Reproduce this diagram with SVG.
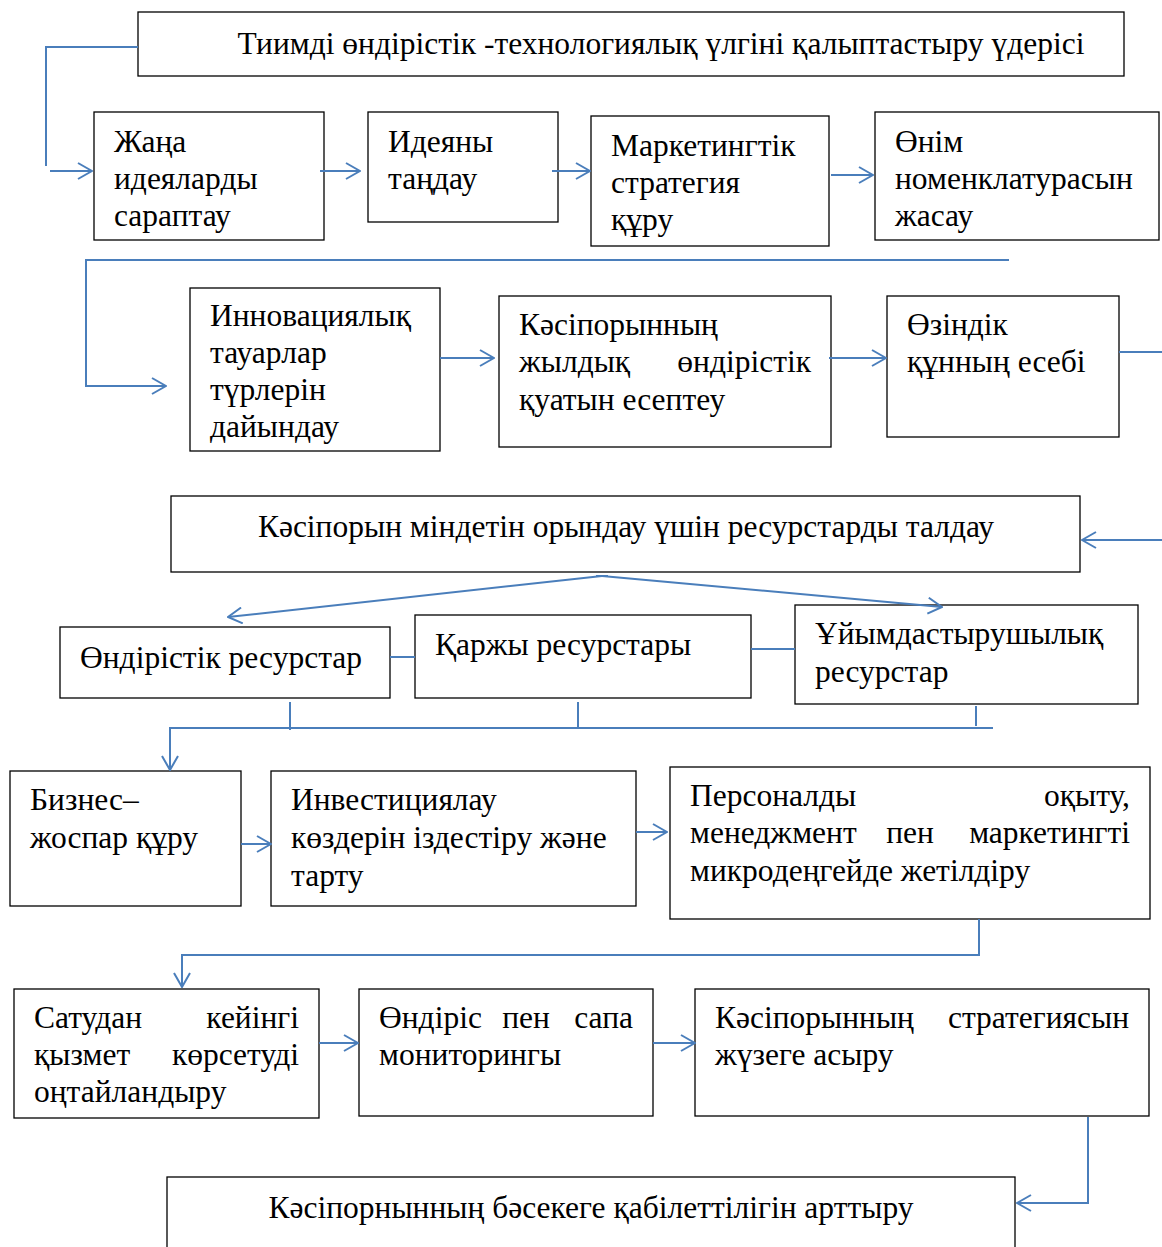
<svg xmlns="http://www.w3.org/2000/svg" width="1162" height="1247" viewBox="0 0 1162 1247">
<defs>
<style>
.box{fill:#fff;stroke:#000;stroke-width:1.3}
.t{font-family:"Liberation Serif","Times New Roman",serif;font-size:31.5px;fill:#000}
.c{fill:none;stroke:#4a7ebb;stroke-width:2}
</style>
<marker id="ah" viewBox="0 0 16 18" refX="15" refY="9" markerWidth="16" markerHeight="18" markerUnits="userSpaceOnUse" orient="auto">
<path d="M1,1 L15,9 L1,17" fill="none" stroke="#4a7ebb" stroke-width="2"/>
</marker>
</defs>
<rect width="1162" height="1247" fill="#fff"/>
<g id="n1"><rect class="box" x="138" y="12" width="986" height="64"/><text class="t" x="661" y="54" text-anchor="middle">Тиимді өндірістік -технологиялық үлгіні қалыптастыру үдерісі</text></g>
<g id="n2"><rect class="box" x="94" y="112" width="230" height="128"/><text class="t"><tspan x="114" y="152">Жаңа</tspan><tspan x="114" y="189">идеяларды</tspan><tspan x="114" y="226">сараптау</tspan></text></g>
<g id="n3"><rect class="box" x="368" y="112" width="190" height="110"/><text class="t"><tspan x="388" y="152">Идеяны</tspan><tspan x="388" y="189">таңдау</tspan></text></g>
<g id="n4"><rect class="box" x="591" y="116" width="238" height="130"/><text class="t"><tspan x="611" y="156">Маркетингтік</tspan><tspan x="611" y="193">стратегия</tspan><tspan x="611" y="230">құру</tspan></text></g>
<g id="n5"><rect class="box" x="875" y="112" width="284" height="128"/><text class="t"><tspan x="895" y="152">Өнім</tspan><tspan x="895" y="189">номенклатурасын</tspan><tspan x="895" y="226">жасау</tspan></text></g>
<g id="n6"><rect class="box" x="190" y="288" width="250" height="163"/><text class="t"><tspan x="210" y="326">Инновациялық</tspan><tspan x="210" y="363">тауарлар</tspan><tspan x="210" y="400">түрлерін</tspan><tspan x="210" y="437">дайындау</tspan></text></g>
<g id="n7"><rect class="box" x="499" y="296" width="332" height="151"/><text class="t"><tspan x="519" y="335">Кәсіпорынның</tspan><tspan x="519" y="372">жылдық</tspan><tspan x="811" y="372" text-anchor="end">өндірістік</tspan><tspan x="519" y="410">қуатын есептеу</tspan></text></g>
<g id="n8"><rect class="box" x="887" y="296" width="232" height="141"/><text class="t"><tspan x="907" y="335">Өзіндік</tspan><tspan x="907" y="372">құнның есебі</tspan></text></g>
<g id="n9"><rect class="box" x="171" y="496" width="909" height="76"/><text class="t" x="626" y="537" text-anchor="middle">Кәсіпорын міндетін орындау үшін ресурстарды талдау</text></g>
<g id="n10"><rect class="box" x="60" y="627" width="330" height="71"/><text class="t" x="80" y="668">Өндірістік ресурстар</text></g>
<g id="n11"><rect class="box" x="415" y="615" width="336" height="83"/><text class="t" x="435" y="655">Қаржы ресурстары</text></g>
<g id="n12"><rect class="box" x="795" y="605" width="343" height="99"/><text class="t"><tspan x="815" y="644">Ұйымдастырушылық</tspan><tspan x="815" y="682">ресурстар</tspan></text></g>
<g id="n13"><rect class="box" x="10" y="771" width="231" height="135"/><text class="t"><tspan x="30" y="810">Бизнес–</tspan><tspan x="30" y="848">жоспар құру</tspan></text></g>
<g id="n14"><rect class="box" x="271" y="771" width="365" height="135"/><text class="t"><tspan x="291" y="810">Инвестициялау</tspan><tspan x="291" y="848">көздерін іздестіру және</tspan><tspan x="291" y="886">тарту</tspan></text></g>
<g id="n15"><rect class="box" x="670" y="767" width="480" height="152"/><text class="t"><tspan x="690" y="806">Персоналды</tspan><tspan x="1130" y="806" text-anchor="end">оқыту,</tspan><tspan x="690" y="843">менеджмент</tspan><tspan x="910" y="843" text-anchor="middle">пен</tspan><tspan x="1130" y="843" text-anchor="end">маркетингті</tspan><tspan x="690" y="881">микродеңгейде жетілдіру</tspan></text></g>
<g id="n16"><rect class="box" x="14" y="989" width="305" height="129"/><text class="t"><tspan x="34" y="1028">Сатудан</tspan><tspan x="299" y="1028" text-anchor="end">кейінгі</tspan><tspan x="34" y="1065">қызмет</tspan><tspan x="299" y="1065" text-anchor="end">көрсетуді</tspan><tspan x="34" y="1102">оңтайландыру</tspan></text></g>
<g id="n17"><rect class="box" x="359" y="989" width="294" height="127"/><text class="t"><tspan x="379" y="1028">Өндіріс</tspan><tspan x="526" y="1028" text-anchor="middle">пен</tspan><tspan x="633" y="1028" text-anchor="end">сапа</tspan><tspan x="379" y="1065">мониторингы</tspan></text></g>
<g id="n18"><rect class="box" x="695" y="989" width="454" height="127"/><text class="t"><tspan x="715" y="1028">Кәсіпорынның</tspan><tspan x="1129" y="1028" text-anchor="end">стратегиясын</tspan><tspan x="715" y="1065">жүзеге асыру</tspan></text></g>
<g id="n19"><rect class="box" x="167" y="1177" width="848" height="80"/><text class="t" x="591" y="1218" text-anchor="middle">Кәсіпорнынның бәсекеге қабілеттілігін арттыру</text></g>
<g id="connectors">
<path class="c" d="M138,47 H46 V166"/>
<path class="c" d="M50,171 H92" marker-end="url(#ah)"/>
<path class="c" d="M320,171 H360" marker-end="url(#ah)"/>
<path class="c" d="M552,171 H590" marker-end="url(#ah)"/>
<path class="c" d="M831,175 H873" marker-end="url(#ah)"/>
<path class="c" d="M1009,260 H86 V386 H166" marker-end="url(#ah)"/>
<path class="c" d="M440,358 H494" marker-end="url(#ah)"/>
<path class="c" d="M829,358 H886" marker-end="url(#ah)"/>
<path class="c" d="M1119,352 H1162"/>
<path class="c" d="M1162,540 H1082" marker-end="url(#ah)"/>
<path class="c" d="M596,576 H608"/>
<path class="c" d="M602,576 L228,617" marker-end="url(#ah)"/>
<path class="c" d="M602,576 L942,607" marker-end="url(#ah)"/>
<path class="c" d="M390,657 H415"/>
<path class="c" d="M751,649 H795"/>
<path class="c" d="M290,702 V730"/>
<path class="c" d="M578,702 V727"/>
<path class="c" d="M976,706 V726"/>
<path class="c" d="M993,728 H170 V770" marker-end="url(#ah)"/>
<path class="c" d="M241,844 H271" marker-end="url(#ah)"/>
<path class="c" d="M636,832 H667" marker-end="url(#ah)"/>
<path class="c" d="M979,919 V955 H182 V987" marker-end="url(#ah)"/>
<path class="c" d="M319,1043 H358" marker-end="url(#ah)"/>
<path class="c" d="M653,1043 H695" marker-end="url(#ah)"/>
<path class="c" d="M1088,1117 V1203 H1017" marker-end="url(#ah)"/>
</g>
</svg>
